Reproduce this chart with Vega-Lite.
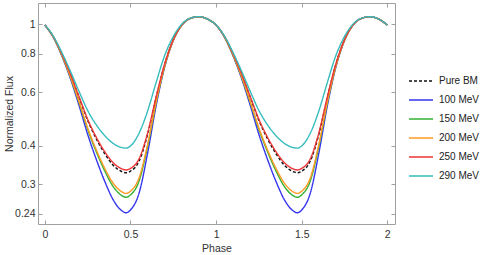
{
  "$schema": "https://vega.github.io/schema/vega-lite/v6.json",
  "width": 357,
  "height": 221,
  "autosize": {"type": "none"},
  "padding": {"left": 38, "top": 3, "right": 90, "bottom": 31},
  "background": "white",
  "config": {
    "font": "Liberation Sans",
    "view": {"stroke": "#a0a0a0", "strokeWidth": 1},
    "axis": {
      "domain": false,
      "grid": false,
      "tickColor": "#a0a0a0",
      "tickSize": -4,
      "labelFontSize": 10.5,
      "labelColor": "#333333",
      "labelPadding": 7,
      "titleFontSize": 10.5,
      "titleFontWeight": "normal",
      "titleColor": "#333333"
    }
  },
  "data": {
    "values": [
      {"phase": 0, "Pure BM": 0.9928, "100 MeV": 0.9916, "150 MeV": 0.9920, "200 MeV": 0.9922, "250 MeV": 0.9930, "290 MeV": 0.9938},
      {"phase": 0.05, "Pure BM": 0.9078, "100 MeV": 0.9031, "150 MeV": 0.9048, "200 MeV": 0.9052, "250 MeV": 0.9082, "290 MeV": 0.9114},
      {"phase": 0.1, "Pure BM": 0.7966, "100 MeV": 0.7850, "150 MeV": 0.7891, "200 MeV": 0.7902, "250 MeV": 0.7975, "290 MeV": 0.8056},
      {"phase": 0.15, "Pure BM": 0.6834, "100 MeV": 0.6619, "150 MeV": 0.6695, "200 MeV": 0.6715, "250 MeV": 0.6852, "290 MeV": 0.7001},
      {"phase": 0.2, "Pure BM": 0.5758, "100 MeV": 0.5416, "150 MeV": 0.5537, "200 MeV": 0.5569, "250 MeV": 0.5786, "290 MeV": 0.6023},
      {"phase": 0.25, "Pure BM": 0.4849, "100 MeV": 0.4367, "150 MeV": 0.4537, "200 MeV": 0.4582, "250 MeV": 0.4889, "290 MeV": 0.5223},
      {"phase": 0.3, "Pure BM": 0.4225, "100 MeV": 0.3623, "150 MeV": 0.3836, "200 MeV": 0.3892, "250 MeV": 0.4275, "290 MeV": 0.4693},
      {"phase": 0.35, "Pure BM": 0.3773, "100 MeV": 0.3065, "150 MeV": 0.3315, "200 MeV": 0.3381, "250 MeV": 0.3831, "290 MeV": 0.4322},
      {"phase": 0.4, "Pure BM": 0.3457, "100 MeV": 0.2664, "150 MeV": 0.2944, "200 MeV": 0.3019, "250 MeV": 0.3523, "290 MeV": 0.4073},
      {"phase": 0.45, "Pure BM": 0.3299, "100 MeV": 0.2458, "150 MeV": 0.2755, "200 MeV": 0.2834, "250 MeV": 0.3368, "290 MeV": 0.3952},
      {"phase": 0.475, "Pure BM": 0.3271, "100 MeV": 0.2421, "150 MeV": 0.2721, "200 MeV": 0.2801, "250 MeV": 0.3341, "290 MeV": 0.3935},
      {"phase": 0.5, "Pure BM": 0.3311, "100 MeV": 0.2474, "150 MeV": 0.2770, "200 MeV": 0.2848, "250 MeV": 0.3380, "290 MeV": 0.4000},
      {"phase": 0.55, "Pure BM": 0.3566, "100 MeV": 0.2804, "150 MeV": 0.3073, "200 MeV": 0.3145, "250 MeV": 0.3629, "290 MeV": 0.4400},
      {"phase": 0.6, "Pure BM": 0.4360, "100 MeV": 0.3786, "150 MeV": 0.3989, "200 MeV": 0.4043, "250 MeV": 0.4408, "290 MeV": 0.5200},
      {"phase": 0.65, "Pure BM": 0.5758, "100 MeV": 0.5416, "150 MeV": 0.5537, "200 MeV": 0.5569, "250 MeV": 0.5786, "290 MeV": 0.6450},
      {"phase": 0.7, "Pure BM": 0.7405, "100 MeV": 0.7244, "150 MeV": 0.7301, "200 MeV": 0.7316, "250 MeV": 0.7418, "290 MeV": 0.7900},
      {"phase": 0.75, "Pure BM": 0.8885, "100 MeV": 0.8828, "150 MeV": 0.8848, "200 MeV": 0.8853, "250 MeV": 0.8890, "290 MeV": 0.9100},
      {"phase": 0.8, "Pure BM": 0.9928, "100 MeV": 0.9916, "150 MeV": 0.9920, "200 MeV": 0.9922, "250 MeV": 0.9930, "290 MeV": 0.9990},
      {"phase": 0.85, "Pure BM": 1.0437, "100 MeV": 1.0436, "150 MeV": 1.0436, "200 MeV": 1.0436, "250 MeV": 1.0437, "290 MeV": 1.0450},
      {"phase": 0.9, "Pure BM": 1.0568, "100 MeV": 1.0568, "150 MeV": 1.0568, "200 MeV": 1.0568, "250 MeV": 1.0568, "290 MeV": 1.0568},
      {"phase": 0.95, "Pure BM": 1.0373, "100 MeV": 1.0371, "150 MeV": 1.0372, "200 MeV": 1.0372, "250 MeV": 1.0373, "290 MeV": 1.0374},
      {"phase": 1.0, "Pure BM": 0.9928, "100 MeV": 0.9916, "150 MeV": 0.9920, "200 MeV": 0.9922, "250 MeV": 0.9930, "290 MeV": 0.9938},
      {"phase": 1.05, "Pure BM": 0.9078, "100 MeV": 0.9031, "150 MeV": 0.9048, "200 MeV": 0.9052, "250 MeV": 0.9082, "290 MeV": 0.9114},
      {"phase": 1.1, "Pure BM": 0.7966, "100 MeV": 0.7850, "150 MeV": 0.7891, "200 MeV": 0.7902, "250 MeV": 0.7975, "290 MeV": 0.8056},
      {"phase": 1.15, "Pure BM": 0.6834, "100 MeV": 0.6619, "150 MeV": 0.6695, "200 MeV": 0.6715, "250 MeV": 0.6852, "290 MeV": 0.7001},
      {"phase": 1.2, "Pure BM": 0.5758, "100 MeV": 0.5416, "150 MeV": 0.5537, "200 MeV": 0.5569, "250 MeV": 0.5786, "290 MeV": 0.6023},
      {"phase": 1.25, "Pure BM": 0.4849, "100 MeV": 0.4367, "150 MeV": 0.4537, "200 MeV": 0.4582, "250 MeV": 0.4889, "290 MeV": 0.5223},
      {"phase": 1.3, "Pure BM": 0.4225, "100 MeV": 0.3623, "150 MeV": 0.3836, "200 MeV": 0.3892, "250 MeV": 0.4275, "290 MeV": 0.4693},
      {"phase": 1.35, "Pure BM": 0.3773, "100 MeV": 0.3065, "150 MeV": 0.3315, "200 MeV": 0.3381, "250 MeV": 0.3831, "290 MeV": 0.4322},
      {"phase": 1.4, "Pure BM": 0.3457, "100 MeV": 0.2664, "150 MeV": 0.2944, "200 MeV": 0.3019, "250 MeV": 0.3523, "290 MeV": 0.4073},
      {"phase": 1.45, "Pure BM": 0.3299, "100 MeV": 0.2458, "150 MeV": 0.2755, "200 MeV": 0.2834, "250 MeV": 0.3368, "290 MeV": 0.3952},
      {"phase": 1.475, "Pure BM": 0.3271, "100 MeV": 0.2421, "150 MeV": 0.2721, "200 MeV": 0.2801, "250 MeV": 0.3341, "290 MeV": 0.3935},
      {"phase": 1.5, "Pure BM": 0.3311, "100 MeV": 0.2474, "150 MeV": 0.2770, "200 MeV": 0.2848, "250 MeV": 0.3380, "290 MeV": 0.4000},
      {"phase": 1.55, "Pure BM": 0.3566, "100 MeV": 0.2804, "150 MeV": 0.3073, "200 MeV": 0.3145, "250 MeV": 0.3629, "290 MeV": 0.4400},
      {"phase": 1.6, "Pure BM": 0.4360, "100 MeV": 0.3786, "150 MeV": 0.3989, "200 MeV": 0.4043, "250 MeV": 0.4408, "290 MeV": 0.5200},
      {"phase": 1.65, "Pure BM": 0.5758, "100 MeV": 0.5416, "150 MeV": 0.5537, "200 MeV": 0.5569, "250 MeV": 0.5786, "290 MeV": 0.6450},
      {"phase": 1.7, "Pure BM": 0.7405, "100 MeV": 0.7244, "150 MeV": 0.7301, "200 MeV": 0.7316, "250 MeV": 0.7418, "290 MeV": 0.7900},
      {"phase": 1.75, "Pure BM": 0.8885, "100 MeV": 0.8828, "150 MeV": 0.8848, "200 MeV": 0.8853, "250 MeV": 0.8890, "290 MeV": 0.9100},
      {"phase": 1.8, "Pure BM": 0.9928, "100 MeV": 0.9916, "150 MeV": 0.9920, "200 MeV": 0.9922, "250 MeV": 0.9930, "290 MeV": 0.9990},
      {"phase": 1.85, "Pure BM": 1.0437, "100 MeV": 1.0436, "150 MeV": 1.0436, "200 MeV": 1.0436, "250 MeV": 1.0437, "290 MeV": 1.0450},
      {"phase": 1.9, "Pure BM": 1.0568, "100 MeV": 1.0568, "150 MeV": 1.0568, "200 MeV": 1.0568, "250 MeV": 1.0568, "290 MeV": 1.0568},
      {"phase": 1.95, "Pure BM": 1.0373, "100 MeV": 1.0371, "150 MeV": 1.0372, "200 MeV": 1.0372, "250 MeV": 1.0373, "290 MeV": 1.0374},
      {"phase": 2.0, "Pure BM": 0.9928, "100 MeV": 0.9916, "150 MeV": 0.9920, "200 MeV": 0.9922, "250 MeV": 0.9930, "290 MeV": 0.9938}
    ]
  },
  "transform": [
    {"fold": ["Pure BM", "100 MeV", "150 MeV", "200 MeV", "250 MeV", "290 MeV"], "as": ["series", "flux"]}
  ],
  "layer": [
    {
      "mark": {"type": "line", "strokeWidth": 1.4, "interpolate": "monotone", "clip": true},
      "encoding": {
        "x": {
          "field": "phase", "type": "quantitative",
          "scale": {"domain": [-0.04, 2.045], "nice": false, "zero": false},
          "axis": {"orient": "bottom", "values": [0, 0.5, 1, 1.5, 2], "format": ".1~f", "title": "Phase", "labelPadding": 9, "titlePadding": 4}
        },
        "y": {
          "field": "flux", "type": "quantitative",
          "scale": {"type": "log", "domain": [0.2226, 1.171], "nice": false},
          "axis": {"orient": "left", "values": [0.24, 0.3, 0.4, 0.6, 0.8, 1], "format": ".2~f", "title": "Normalized Flux", "titlePadding": 0}
        },
        "color": {
          "field": "series", "type": "nominal",
          "scale": {
            "domain": ["Pure BM", "100 MeV", "150 MeV", "200 MeV", "250 MeV", "290 MeV"],
            "range": ["#111111", "#3535ee", "#35b035", "#ff9a25", "#ee3535", "#35bcbc"]
          },
          "legend": {
            "orient": "none", "legendX": 370, "legendY": 65, "title": null,
            "symbolType": "stroke", "symbolSize": 576, "symbolStrokeWidth": 1.5,
            "labelFontSize": 10, "labelColor": "#222222", "labelOffset": 5, "rowPadding": 1
          }
        },
        "strokeDash": {
          "field": "series", "type": "nominal",
          "scale": {
            "domain": ["Pure BM", "100 MeV", "150 MeV", "200 MeV", "250 MeV", "290 MeV"],
            "range": [[3, 2], [1, 0], [1, 0], [1, 0], [1, 0], [1, 0]]
          },
          "legend": {
            "orient": "none", "legendX": 370, "legendY": 65, "title": null,
            "symbolType": "stroke", "symbolSize": 576, "symbolStrokeWidth": 1.5,
            "labelFontSize": 10, "labelColor": "#222222", "labelOffset": 5, "rowPadding": 1
          }
        }
      }
    },
    {
      "mark": {"type": "line", "opacity": 0},
      "encoding": {
        "x": {
          "field": "phase", "type": "quantitative",
          "axis": {"orient": "top", "values": [0, 0.5, 1, 1.5, 2], "labels": false, "title": null}
        },
        "y": {
          "field": "flux", "type": "quantitative",
          "axis": {"orient": "right", "values": [0.24, 0.3, 0.4, 0.6, 0.8, 1], "labels": false, "title": null}
        }
      }
    }
  ],
  "resolve": {"axis": {"x": "independent", "y": "independent"}}
}
